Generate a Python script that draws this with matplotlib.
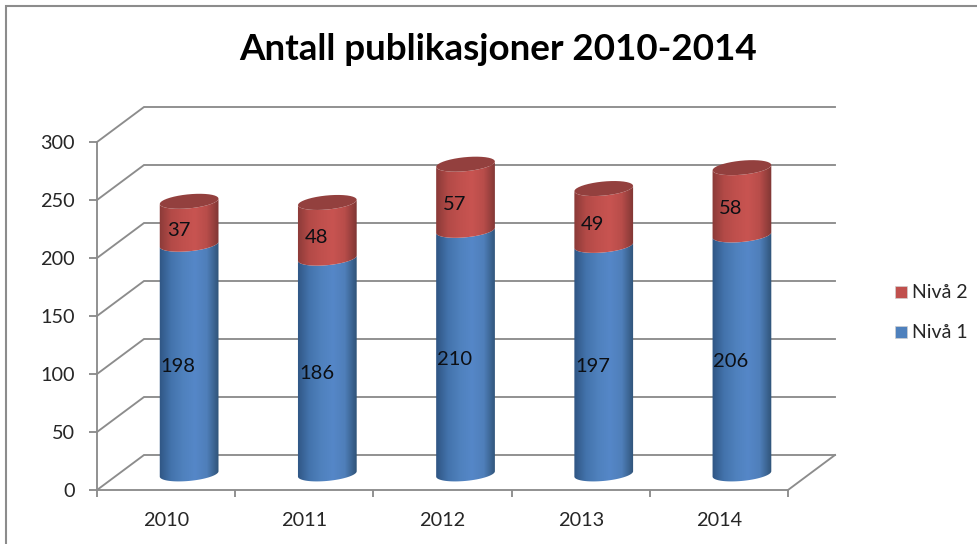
import numpy as np
import matplotlib
matplotlib.use('Agg')
import matplotlib.pyplot as plt
from matplotlib.patches import Polygon, Rectangle
from matplotlib.colors import LinearSegmentedColormap

plt.rcParams['font.family'] = ['Lato', 'DejaVu Sans']

aar = ['2010', '2011', '2012', '2013', '2014']
niva1 = [198, 186, 210, 197, 206]
niva2 = [37, 48, 57, 49, 58]
y_ticks = [0, 50, 100, 150, 200, 250, 300]

W, H = 978, 544
fig = plt.figure(figsize=(W / 100, H / 100), dpi=100)

# forreste plan i piksler: x 97-788, y 490-142
x0, x1, y0, y1 = 97, 788, 490, 142
ax = fig.add_axes([x0 / W, 1 - y0 / H, (x1 - x0) / W, (y0 - y1) / H])
grey = '#8c8c8c'
lw = 1.35

px_x = (x1 - x0) / 5      # piksler per kategori
px_y = (y0 - y1) / 300    # piksler per enhet
dx = 47 / px_x            # dybde i dataenheter
dy = 35 / px_y

# rutenett: skrå linje inn, så bakvegg
for v in y_ticks:
    ax.plot([-0.5, -0.5 + dx, 4.5 + dx], [v, v + dy, v + dy], color=grey, lw=lw,
            clip_on=False, zorder=1, solid_joinstyle='miter')
ax.plot([4.5, 4.5 + dx], [0, dy], color=grey, lw=lw, clip_on=False, zorder=1)

blue_cm = LinearSegmentedColormap.from_list('b', ['#2f5583', '#4373ac', '#4f81bd', '#5587c8', '#4f7fba', '#2f5378'])
red_cm = LinearSegmentedColormap.from_list('r', ['#8a3a38', '#b34a47', '#c0504d', '#c85451', '#b84d4a', '#7f3634'])
grad = np.linspace(0, 1, 128).reshape(1, -1)


def ellipse_half(cx, v, start, stop):
    # skrå ellipse, regnet i piksler og ført tilbake til dataenheter
    a, b, phi = 29.5, 7.0, np.radians(5.5)
    t = np.linspace(start, stop, 40)
    ex = a * np.cos(t) * np.cos(phi) - b * np.sin(t) * np.sin(phi)
    ey = a * np.cos(t) * np.sin(phi) + b * np.sin(t) * np.cos(phi)
    return np.column_stack([cx + ex / px_x, v + ey / px_y])


def segment(cx, v_lo, v_hi, cmap):
    lower = ellipse_half(cx, v_lo, np.pi, 2 * np.pi)
    upper = ellipse_half(cx, v_hi, 2 * np.pi, np.pi)
    patch = Polygon(np.vstack([lower, upper]), closed=True, transform=ax.transData,
                    facecolor='none', edgecolor='none')
    ax.add_patch(patch)
    im = ax.imshow(grad, cmap=cmap, aspect='auto', zorder=3, interpolation='bilinear',
                   extent=[cx - 30 / px_x, cx + 30 / px_x, v_lo - 12 / px_y, v_hi + 12 / px_y])
    im.set_clip_path(patch)
    im.set_clip_on(True)


for i in range(len(aar)):
    cx = i + 0.49 * dx
    base = 0.46 * dy
    segment(cx, base, base + niva1[i], blue_cm)
    segment(cx, base + niva1[i], base + niva1[i] + niva2[i], red_cm)
    top = base + niva1[i] + niva2[i]
    ax.add_patch(Polygon(ellipse_half(cx, top, 0, 2 * np.pi), closed=True,
                         facecolor='#93403e', edgecolor='none', zorder=4, clip_on=False))
    # dataetiketter
    ax.text(i + 0.26 * dx, niva1[i] / 2 + 0.25 * dy, str(niva1[i]), ha='center', va='center',
            fontsize=14.5, color='#0c0f14', zorder=5)
    ax.text(i + 0.26 * dx, niva1[i] + niva2[i] / 2 + 0.25 * dy, str(niva2[i]), ha='center',
            va='center', fontsize=14.5, color='#0c0f14', zorder=5)

ax.set_xlim(-0.5, 4.5)
ax.set_ylim(0, 300)
ax.patch.set_alpha(0)
for s in ['top', 'right']:
    ax.spines[s].set_visible(False)
for s in ['left', 'bottom']:
    ax.spines[s].set_color(grey)
    ax.spines[s].set_linewidth(lw)

ax.set_yticks(y_ticks)
ax.tick_params(axis='y', length=6, width=lw, color=grey, labelsize=14.3, labelcolor='#262626', pad=10)
ax.set_xticks(range(5))
ax.set_xticklabels(aar)
ax.set_xticks(np.arange(-0.5, 5, 1), minor=True)
ax.tick_params(axis='x', which='major', length=0, labelsize=14.3, labelcolor='#262626', pad=15.5)
ax.tick_params(axis='x', which='minor', length=5, width=lw, color=grey)

# tittel
fig.text(498 / W, 1 - 50 / H, 'Antall publikasjoner 2010-2014', ha='center', va='center',
         fontsize=26.5, fontweight='bold', color='black')

# forklaring
for v, lab, col in [(292, 'Nivå 2', '#c0504d'), (332, 'Nivå 1', '#4f81bd')]:
    fig.add_artist(Rectangle((895 / W, 1 - (v + 6) / H), 12 / W, 12 / H, transform=fig.transFigure,
                             facecolor=col, edgecolor='#d0d0d0', lw=0.5))
    fig.text(912 / W, 1 - v / H, lab, ha='left', va='center', fontsize=14, color='#262626')

# ramme rundt diagrammet
fig.add_artist(plt.Line2D([6 / W, 6 / W, 1], [0, 1 - 6 / H, 1 - 6 / H], transform=fig.transFigure,
                          color=grey, lw=1.5, solid_joinstyle='miter'))

fig.savefig('out.png', dpi=100)
